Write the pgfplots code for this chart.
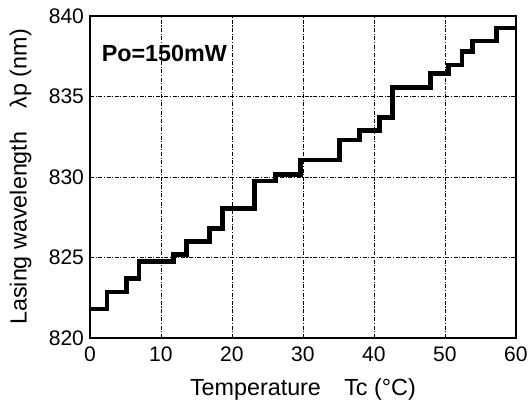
\documentclass[border=0pt]{standalone}
\usepackage{pgfplots}
\pgfplotsset{compat=1.18}
\usepackage{fontspec}
\setmainfont{Liberation Sans}
\begin{document}
\begin{tikzpicture}
\begin{axis}[
  name=ax,
  scale only axis,
  width=319.5pt, height=241.5pt,
  xmin=0, xmax=60, ymin=820, ymax=840,
  xtick={0,10,...,60}, ytick={820,825,...,840},
  grid=major,
  major grid style={black, line width=0.5pt, dash pattern=on 3pt off 1.2pt on 0.8pt off 1.2pt},
  axis line style={black, line width=2pt},
  tick style={draw=none},
  /pgf/number format/assume math mode=true,
  /pgf/number format/1000 sep={},
  tick label style={font=\fontsize{15.8}{18}\selectfont},
  xticklabel style={yshift=-3pt},
  yticklabel style={xshift=-1pt},
  xlabel={Temperature\hspace{1.0em}Tc (°C)},
  ylabel={Lasing wavelength\hspace{1.0em}λp (nm)},
  label style={font=\fontsize{17.5}{20}\selectfont},
  xlabel style={at={(axis description cs:0.5,0)}, anchor=center, yshift=-39pt},
  ylabel style={at={(axis description cs:0,0.5)}, anchor=center, yshift=52pt},
]
\addplot[const plot, black, line width=3.6pt] coordinates {
(0,821.8) (2.4,822.85) (5.1,823.7) (6.9,824.75) (11.8,825.2) (13.6,826.0)
(16.8,826.8) (18.7,828.05) (23.2,829.75) (26.1,830.15) (29.7,831.05)
(35.1,832.3) (38.0,832.9) (40.8,833.7) (42.6,835.55) (48.0,836.45)
(50.5,836.95) (52.4,837.8) (53.9,838.45) (57.3,839.25) (60,839.25)
};
\node[anchor=west, font=\bfseries\fontsize{17.5}{20}\selectfont] at (axis cs:1,837.7) {Po=150mW};
\end{axis}
\path ([xshift=-67.5pt,yshift=-49pt]ax.south west) rectangle ([xshift=12pt,yshift=12pt]ax.north east);
\end{tikzpicture}
\end{document}
